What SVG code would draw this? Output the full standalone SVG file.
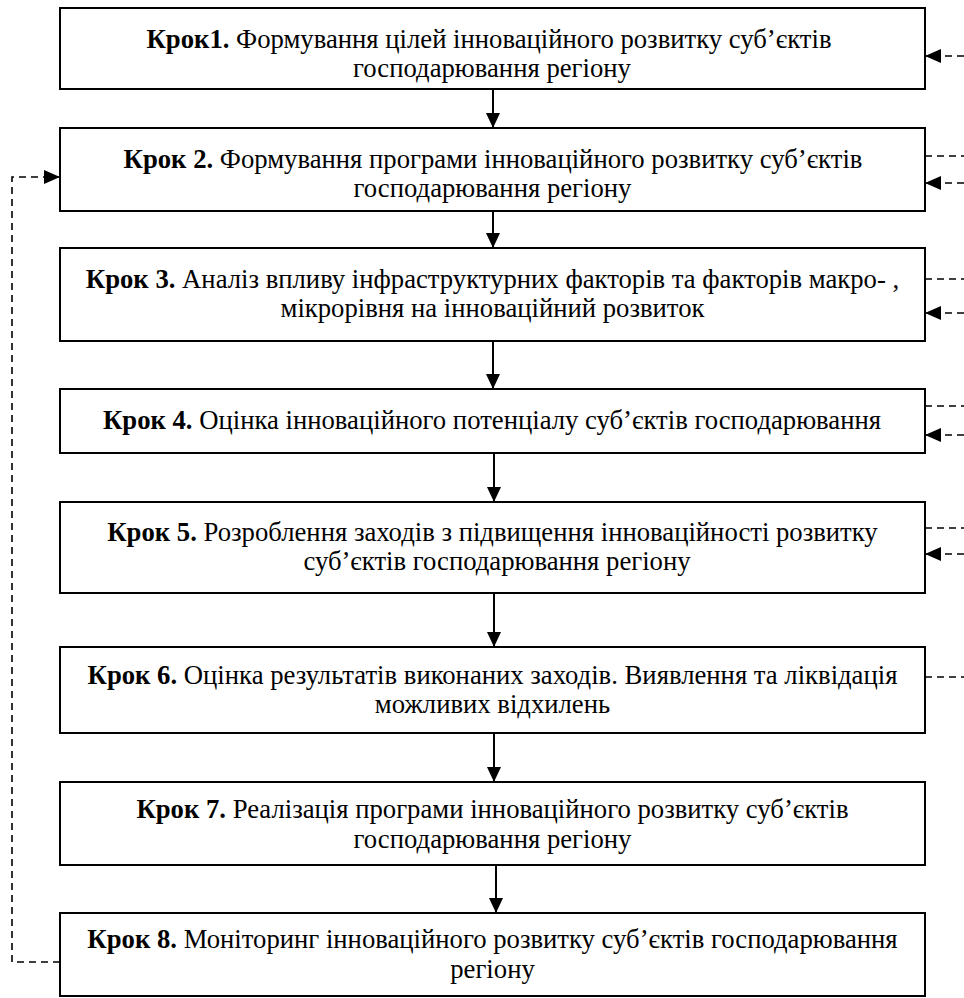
<svg xmlns="http://www.w3.org/2000/svg" width="964" height="998" viewBox="0 0 964 998">
<style>
.box{fill:#fff;stroke:#000;stroke-width:2}
.t{font-family:'Liberation Serif','Times New Roman',serif;font-size:26.7px;fill:#000;text-anchor:middle}
.b{font-weight:bold}
.flow{stroke:#000;stroke-width:2;fill:none}
.dash{stroke:#000;stroke-width:1.6;fill:none;stroke-dasharray:7,5}
</style>
<defs>
<marker id="ah" markerWidth="15" markerHeight="14" refX="15" refY="7" orient="auto" markerUnits="userSpaceOnUse">
<path d="M0,0 L15,7 L0,14 Z" fill="#000"/>
</marker>
<marker id="dh" markerWidth="16" markerHeight="14" refX="16" refY="7" orient="auto" markerUnits="userSpaceOnUse">
<path d="M0,0 L16,7 L0,14 Z" fill="#000"/>
</marker>
</defs>
<g id="step1"><rect class="box" x="60" y="8" width="865" height="81"/>
<text class="t" x="489" y="48"><tspan class="b">Крок1.</tspan> Формування цілей інноваційного розвитку суб’єктів</text>
<text class="t" x="492" y="77">господарювання регіону</text></g>
<g id="step2"><rect class="box" x="60" y="128" width="865" height="83"/>
<text class="t" x="493" y="168"><tspan class="b">Крок 2.</tspan> Формування програми інноваційного розвитку суб’єктів</text>
<text class="t" x="492.5" y="197">господарювання регіону</text></g>
<g id="step3"><rect class="box" x="60" y="248" width="865" height="93"/>
<text class="t" x="492.5" y="288"><tspan class="b">Крок 3.</tspan> Аналіз впливу інфраструктурних факторів та факторів макро- ,</text>
<text class="t" x="492.5" y="317">мікрорівня на інноваційний розвиток</text></g>
<g id="step4"><rect class="box" x="60" y="389" width="865" height="64"/>
<text class="t" x="492" y="429"><tspan class="b">Крок 4.</tspan> Оцінка інноваційного потенціалу суб’єктів господарювання</text></g>
<g id="step5"><rect class="box" x="60" y="502" width="865" height="91"/>
<text class="t" x="492.5" y="541"><tspan class="b">Крок 5.</tspan> Розроблення заходів з підвищення інноваційності розвитку</text>
<text class="t" x="497" y="570">суб’єктів господарювання регіону</text></g>
<g id="step6"><rect class="box" x="60" y="647" width="865" height="86"/>
<text class="t" x="492.5" y="684"><tspan class="b">Крок 6.</tspan> Оцінка результатів виконаних заходів. Виявлення та ліквідація</text>
<text class="t" x="492.5" y="713">можливих відхилень</text></g>
<g id="step7"><rect class="box" x="60" y="782" width="865" height="83"/>
<text class="t" x="492.5" y="818"><tspan class="b">Крок 7.</tspan> Реалізація програми інноваційного розвитку суб’єктів</text>
<text class="t" x="492.5" y="848">господарювання регіону</text></g>
<g id="step8"><rect class="box" x="60" y="913" width="865" height="83"/>
<text class="t" x="492.5" y="948"><tspan class="b">Крок 8.</tspan> Моніторинг інноваційного розвитку суб’єктів господарювання</text>
<text class="t" x="492.5" y="978">регіону</text></g>
<g id="connectors">
<line class="flow" x1="493" y1="89" x2="493" y2="128" marker-end="url(#ah)"/>
<line class="flow" x1="493" y1="211" x2="493" y2="248" marker-end="url(#ah)"/>
<line class="flow" x1="493" y1="341" x2="493" y2="389" marker-end="url(#ah)"/>
<line class="flow" x1="494" y1="453" x2="494" y2="502" marker-end="url(#ah)"/>
<line class="flow" x1="494" y1="593" x2="494" y2="647" marker-end="url(#ah)"/>
<line class="flow" x1="494" y1="733" x2="494" y2="782" marker-end="url(#ah)"/>
<line class="flow" x1="496" y1="865" x2="496" y2="913" marker-end="url(#ah)"/>
<path class="dash" d="M60,962 H12 V177 H60" marker-end="url(#dh)"/>
<line class="dash" x1="964" y1="56" x2="925" y2="56" marker-end="url(#dh)"/>
<line class="dash" x1="925" y1="156" x2="964" y2="156"/>
<line class="dash" x1="964" y1="183" x2="925" y2="183" marker-end="url(#dh)"/>
<line class="dash" x1="925" y1="279" x2="964" y2="279"/>
<line class="dash" x1="964" y1="313" x2="925" y2="313" marker-end="url(#dh)"/>
<line class="dash" x1="925" y1="406" x2="964" y2="406"/>
<line class="dash" x1="964" y1="435" x2="925" y2="435" marker-end="url(#dh)"/>
<line class="dash" x1="925" y1="528" x2="964" y2="528"/>
<line class="dash" x1="964" y1="554" x2="925" y2="554" marker-end="url(#dh)"/>
<line class="dash" x1="925" y1="677" x2="964" y2="677"/>
</g>
</svg>
